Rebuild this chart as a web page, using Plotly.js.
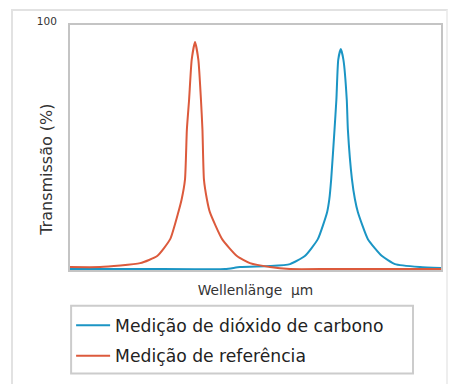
<!DOCTYPE html>
<html>
<head>
<meta charset="utf-8">
<script src="https://cdn.plot.ly/plotly-3.0.1.min.js"></script>
<style>
  html, body { margin: 0; padding: 0; background: #fff; }
  #frame { position: absolute; left: 11px; top: 9px; width: 433px; height: 400px;
           border-left: 2px solid #e2e2e2; border-top: 2px solid #e2e2e2; border-right: 2px solid #eeeeee; }
  #chart { position: absolute; left: 0; top: 0; width: 468px; height: 384px; }
</style>
</head>
<body>
<div id="frame"></div>
<div id="chart"></div>
<script>
// Wavelength axis (arbitrary units, no tick labels shown)
const refWavelength = [0, 8.1, 18.9, 23.5, 27.0, 29.2, 30.1, 31.0, 31.5, 32.1, 32.8, 33.7, 34.6, 35.3, 35.7, 36.1, 36.9, 37.7, 41.0, 45.0, 48.5, 53.9, 59.3, 70, 85, 100];
const refTransmission = [1.2, 1.2, 2.8, 5.7, 12.6, 23.6, 28.9, 37.0, 57.3, 69.5, 85.8, 93.1, 85.8, 69.5, 57.3, 37.0, 28.9, 23.6, 12.6, 5.7, 2.8, 1.2, 0.4, 0.4, 0.4, 0.4];

const co2Wavelength = [0, 20, 41.8, 45.8, 53.9, 59.3, 63.3, 66.8, 69.3, 69.9, 70.4, 71.3, 71.8, 72.3, 73.0, 73.7, 74.6, 74.9, 76.0, 76.8, 77.6, 80.3, 84.1, 87.6, 94.3, 100];
const co2Transmission = [0.4, 0.4, 0.4, 1.2, 1.6, 2.4, 5.7, 12.6, 23.6, 28.9, 37.0, 57.3, 69.5, 85.8, 90.2, 85.8, 69.5, 57.3, 37.0, 28.9, 23.6, 12.6, 5.7, 2.4, 1.2, 0.8];

const seriesNames = ["Medição de dióxido de carbono", "Medição de referência"];
const yTickVals = [100];
const yTickText = ["100"];

const FONT = "DejaVu Sans, sans-serif";

const traces = [
  { x: co2Wavelength, y: co2Transmission, name: seriesNames[0], mode: "lines",
    line: { color: "#1b95c4", width: 2, shape: "spline", smoothing: 0.5 }, legendgroup: "a" },
  { x: refWavelength, y: refTransmission, name: seriesNames[1], mode: "lines",
    line: { color: "#dc5a3c", width: 2, shape: "spline", smoothing: 0.5 }, legendgroup: "b" }
];

const layout = {
  width: 468, height: 384,
  margin: { l: 70, r: 27, t: 25, b: 113 },
  paper_bgcolor: "rgba(0,0,0,0)",
  plot_bgcolor: "#ffffff",
  font: { family: FONT, color: "#333333" },
  showlegend: true,
  xaxis: {
    range: [0, 100], showgrid: false, zeroline: false, showticklabels: false, ticks: "",
    showline: true, mirror: true, linecolor: "#c4c4c4", linewidth: 2,
    title: { text: "Wellenlänge  µm", font: { size: 13.8, color: "#333333" }, standoff: 14 }
  },
  yaxis: {
    range: [0, 100], showgrid: false, zeroline: false, ticks: "",
    tickvals: yTickVals, ticktext: yTickText, tickfont: { size: 10.5, color: "#333333" },
    ticklabelstandoff: 9, ticklabelshift: -4,
    showline: true, mirror: true, linecolor: "#c4c4c4", linewidth: 2
  },
  annotations: [{
    text: "Transmissão (%)", textangle: -90, xref: "paper", yref: "paper",
    x: -0.033, y: 0.41, xanchor: "right", yanchor: "middle", showarrow: false,
    font: { size: 16, color: "#333333" }
  }],
  shapes: [{
    type: "rect", xref: "paper", yref: "paper",
    x0: 0.003, x1: 0.9245, y0: -0.4228, y1: -0.1463,
    line: { color: "#cccccc", width: 2 }, fillcolor: "rgba(0,0,0,0)", layer: "above"
  }],
  legend: {
    x: 0.003, y: -0.149, xanchor: "left", yanchor: "top",
    borderwidth: 0, bgcolor: "rgba(0,0,0,0)",
    font: { size: 17.2, color: "#222222" },
    tracegroupgap: 5, traceorder: "grouped",
    itemwidth: 34
  }
};

Plotly.newPlot("chart", traces, layout, { displayModeBar: false, staticPlot: true });
</script>
</body>
</html>
